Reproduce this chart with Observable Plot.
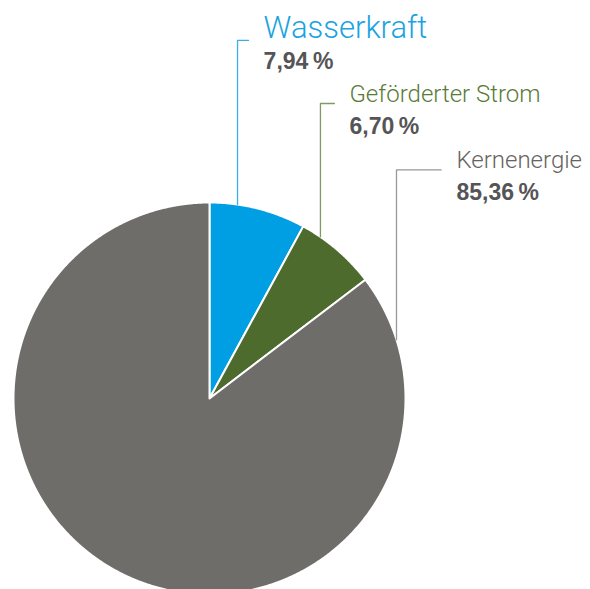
<!DOCTYPE html>
<html>
<head>
<meta charset="utf-8">
<script src="https://cdn.jsdelivr.net/npm/d3@7"></script>
<script src="https://cdn.jsdelivr.net/npm/@observablehq/plot@0.6"></script>
<style>
  html, body { margin: 0; padding: 0; background: #fff; }
  #chart svg { display: block; }
</style>
</head>
<body>
<div id="chart"></div>
<script>
// Data
const categories = ["Wasserkraft", "Geförderter Strom", "Kernenergie"];
const shares = [7.94, 6.70, 85.36];
const shareLabels = ["7,94\u2009%", "6,70\u2009%", "85,36\u2009%"];

// Styles
const sliceColors = ["#009FE3", "#4E6B2E", "#6F6D69"];
const nameColors = ["#1AA3E1", "#5A7B38", "#66645F"];
const leaderColors = ["#3AAEE5", "#7F9A63", "#9A9894"];

// Label layout (in pie-radius units, origin at pie center, y up)
const leaderX = [0.143, 0.566, 0.954];
const leaderTop = [1.827, 1.505, 1.166];
const tickLen = [0.056, 0.071, 0.228];
const textX = [0.276, 0.714, 1.26];
const nameSize = [31, 24, 24];

// Slice polygons via d3.pie
const pie = d3.pie().sort(null).value(d => d)(shares);
const slicePts = [];
pie.forEach((p, i) => {
  const name = categories[i];
  slicePts.push({name, x: 0, y: 0});
  const steps = Math.max(2, Math.ceil((p.endAngle - p.startAngle) / 0.005));
  for (let k = 0; k <= steps; k++) {
    const a = p.startAngle + (p.endAngle - p.startAngle) * k / steps;
    slicePts.push({name, x: Math.sin(a), y: Math.cos(a)});
  }
  slicePts.push({name, x: 0, y: 0});
});

// Leader lines
const leaderPts = [];
categories.forEach((name, i) => {
  const lx = leaderX[i];
  leaderPts.push({name, x: lx, y: Math.sqrt(1 - lx * lx)});
  leaderPts.push({name, x: lx, y: leaderTop[i]});
  leaderPts.push({name, x: lx + tickLen[i], y: leaderTop[i]});
});

const labels = categories.map((name, i) => ({name, pct: shareLabels[i], x: textX[i], y: leaderTop[i], i}));

const chart = Plot.plot({
  width: 590,
  height: 589,
  margin: 0,
  x: {domain: [-1, 1], range: [13, 405], axis: null},
  y: {domain: [-1, 1], range: [594, 202], axis: null},
  color: {domain: categories, range: sliceColors},
  style: {background: "#fff", overflow: "hidden"},
  marks: [
    Plot.line(slicePts, {x: "x", y: "y", z: "name", fill: "name", stroke: "#fff", strokeWidth: 2, strokeLinejoin: "round", curve: "linear"}),
    ...categories.map((name, i) => Plot.line(leaderPts.filter(d => d.name === name), {x: "x", y: "y", stroke: leaderColors[i], strokeWidth: 1.3})),
    ...labels.map((d, i) => Plot.text([d], {x: "x", y: "y", text: "name", textAnchor: "start", lineAnchor: "bottom", dy: -2, fill: nameColors[i], fontSize: nameSize[i], fontFamily: "Roboto, 'Liberation Sans', sans-serif", fontWeight: 300})),
    ...labels.map((d, i) => Plot.text([d], {x: "x", y: "y", text: "pct", textAnchor: "start", lineAnchor: "bottom", dy: i === 0 ? 29 : 30, fill: "#555557", fontSize: 23, fontFamily: "'Liberation Sans', Arial, sans-serif", fontWeight: "bold", letterSpacing: -0.3}))
  ]
});
document.getElementById("chart").appendChild(chart);
</script>
</body>
</html>
